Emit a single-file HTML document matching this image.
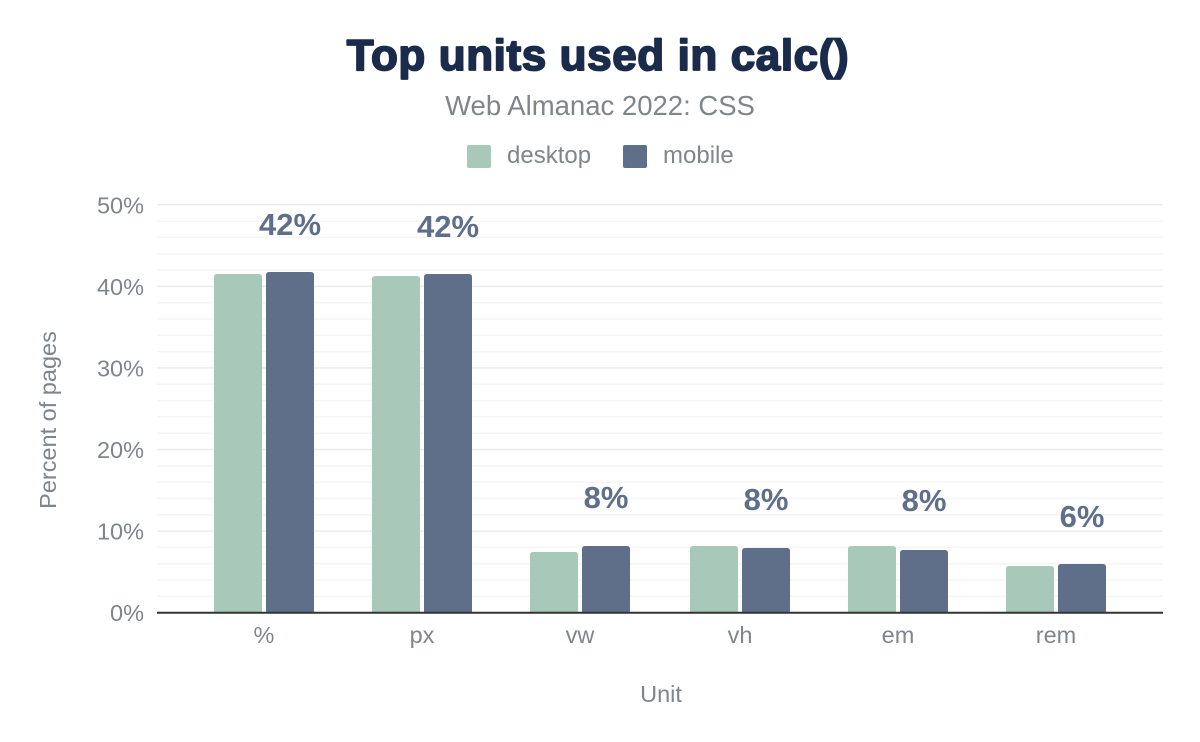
<!DOCTYPE html>
<html>
<head>
<meta charset="utf-8">
<style>
  html, body { margin: 0; padding: 0; background: #ffffff; }
  svg { display: block; }
  text { font-family: "Liberation Sans", Arial, sans-serif; }
</style>
</head>
<body>
<svg width="1200" height="742" viewBox="0 0 1200 742" xmlns="http://www.w3.org/2000/svg">
  <rect width="1200" height="742" fill="#ffffff"/>

  <!-- Title -->
  <text x="598" y="70" text-anchor="middle" font-size="44" font-weight="bold" fill="#1b2b4b" stroke="#1b2b4b" stroke-width="1.8" stroke-linejoin="round" letter-spacing="0.6">Top units used in calc()</text>
  <text x="600" y="115" text-anchor="middle" font-size="27.5" fill="#80858c">Web Almanac 2022: CSS</text>

  <!-- Legend -->
  <rect x="467" y="145" width="24" height="23" rx="2" fill="#a8c9b9"/>
  <text x="507" y="163" font-size="24" fill="#80858c">desktop</text>
  <rect x="623" y="145" width="24" height="23" rx="2" fill="#5f6f8a"/>
  <text x="663" y="163" font-size="24" fill="#80858c">mobile</text>

  <!-- Gridlines (minor) -->
  <g stroke="#f5f5f5" stroke-width="1.5">
    <line x1="157" x2="1163" y1="596.4" y2="596.4"/>
    <line x1="157" x2="1163" y1="580.0" y2="580.0"/>
    <line x1="157" x2="1163" y1="563.7" y2="563.7"/>
    <line x1="157" x2="1163" y1="547.4" y2="547.4"/>
    <line x1="157" x2="1163" y1="514.8" y2="514.8"/>
    <line x1="157" x2="1163" y1="498.5" y2="498.5"/>
    <line x1="157" x2="1163" y1="482.2" y2="482.2"/>
    <line x1="157" x2="1163" y1="465.8" y2="465.8"/>
    <line x1="157" x2="1163" y1="433.2" y2="433.2"/>
    <line x1="157" x2="1163" y1="416.9" y2="416.9"/>
    <line x1="157" x2="1163" y1="400.6" y2="400.6"/>
    <line x1="157" x2="1163" y1="384.3" y2="384.3"/>
    <line x1="157" x2="1163" y1="351.6" y2="351.6"/>
    <line x1="157" x2="1163" y1="335.3" y2="335.3"/>
    <line x1="157" x2="1163" y1="319.0" y2="319.0"/>
    <line x1="157" x2="1163" y1="302.7" y2="302.7"/>
    <line x1="157" x2="1163" y1="270.1" y2="270.1"/>
    <line x1="157" x2="1163" y1="253.8" y2="253.8"/>
    <line x1="157" x2="1163" y1="237.4" y2="237.4"/>
    <line x1="157" x2="1163" y1="221.1" y2="221.1"/>
  </g>
  <!-- Gridlines (major) -->
  <g stroke="#ebebeb" stroke-width="1.5">
    <line x1="157" x2="1163" y1="531.1" y2="531.1"/>
    <line x1="157" x2="1163" y1="449.5" y2="449.5"/>
    <line x1="157" x2="1163" y1="367.9" y2="367.9"/>
    <line x1="157" x2="1163" y1="286.4" y2="286.4"/>
    <line x1="157" x2="1163" y1="204.8" y2="204.8"/>
  </g>

  <!-- Y tick labels -->
  <g font-size="23.5" fill="#80858c" text-anchor="end">
    <text x="144" y="621.2">0%</text>
    <text x="144" y="539.6">10%</text>
    <text x="144" y="458">20%</text>
    <text x="144" y="376.4">30%</text>
    <text x="144" y="294.9">40%</text>
    <text x="144" y="213.3">50%</text>
  </g>

  <!-- Y axis title -->
  <text transform="translate(56,420) rotate(-90)" text-anchor="middle" font-size="23.5" fill="#80858c">Percent of pages</text>

  <!-- Bars: desktop -->
  <g fill="#a8c9b9">
    <path d="M214,613 V277 Q214,274 217,274 H259 Q262,274 262,277 V613 Z"/>
    <path d="M372,613 V279 Q372,276 375,276 H417 Q420,276 420,279 V613 Z"/>
    <path d="M530,613 V555 Q530,552 533,552 H575 Q578,552 578,555 V613 Z"/>
    <path d="M690,613 V549 Q690,546 693,546 H735 Q738,546 738,549 V613 Z"/>
    <path d="M848,613 V549 Q848,546 851,546 H893 Q896,546 896,549 V613 Z"/>
    <path d="M1006,613 V569 Q1006,566 1009,566 H1051 Q1054,566 1054,569 V613 Z"/>
  </g>
  <!-- Bars: mobile -->
  <g fill="#5f6f8a">
    <path d="M266,613 V275 Q266,272 269,272 H311 Q314,272 314,275 V613 Z"/>
    <path d="M424,613 V277 Q424,274 427,274 H469 Q472,274 472,277 V613 Z"/>
    <path d="M582,613 V549 Q582,546 585,546 H627 Q630,546 630,549 V613 Z"/>
    <path d="M742,613 V551 Q742,548 745,548 H787 Q790,548 790,551 V613 Z"/>
    <path d="M900,613 V553 Q900,550 903,550 H945 Q948,550 948,553 V613 Z"/>
    <path d="M1058,613 V567 Q1058,564 1061,564 H1103 Q1106,564 1106,567 V613 Z"/>
  </g>

  <!-- X axis line -->
  <line x1="157" x2="1163" y1="612.7" y2="612.7" stroke="#333333" stroke-width="2"/>

  <!-- Value labels -->
  <g font-size="31" font-weight="bold" fill="#5f6f8a" text-anchor="middle">
    <text x="290" y="235">42%</text>
    <text x="448" y="237">42%</text>
    <text x="606" y="508">8%</text>
    <text x="766" y="510">8%</text>
    <text x="924" y="511">8%</text>
    <text x="1082" y="527">6%</text>
  </g>

  <!-- X tick labels -->
  <g font-size="23.5" fill="#80858c" text-anchor="middle">
    <text x="264" y="643">%</text>
    <text x="422" y="643">px</text>
    <text x="580" y="643">vw</text>
    <text x="740" y="643">vh</text>
    <text x="898" y="643">em</text>
    <text x="1056" y="643">rem</text>
  </g>

  <!-- X axis title -->
  <text x="661" y="702" text-anchor="middle" font-size="23.5" fill="#80858c">Unit</text>
</svg>
</body>
</html>
